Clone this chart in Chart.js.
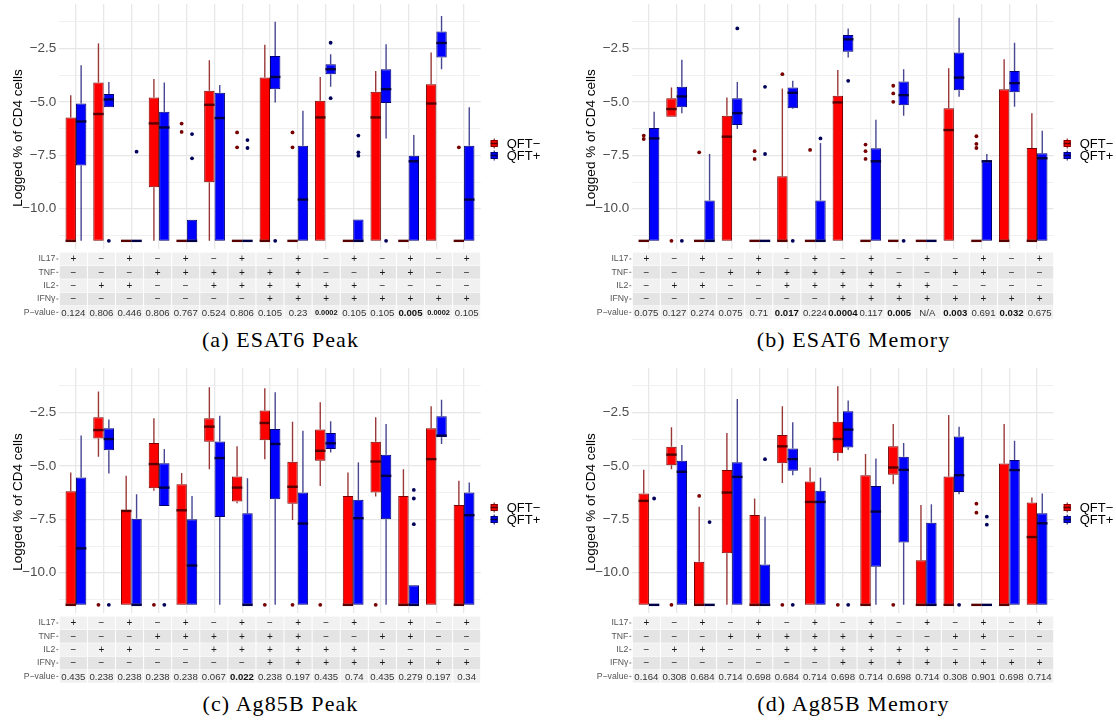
<!DOCTYPE html>
<html>
<head>
<meta charset="utf-8">
<script src="https://cdn.jsdelivr.net/npm/chart.js@4.4.0/dist/chart.umd.min.js"></script>
<style>
  html, body { margin: 0; padding: 0; background: #fff; width: 1116px; height: 720px; overflow: hidden; }
  .panel { position: absolute; width: 545px; height: 325px; }
  .panel canvas { display: block; }
  .caption { position: absolute; width: 545px; text-align: center; font-family: "Liberation Serif", "Times New Roman", serif;
             font-size: 22px; line-height: 26px; letter-spacing: 1.1px; color: #000; }
</style>
</head>
<body>
<div class="panel" style="left:0;top:0"><canvas id="cA" width="545" height="325"></canvas></div>
<div class="panel" style="left:573px;top:0"><canvas id="cB" width="545" height="325"></canvas></div>
<div class="panel" style="left:0;top:364px"><canvas id="cC" width="545" height="325"></canvas></div>
<div class="panel" style="left:573px;top:364px"><canvas id="cD" width="545" height="325"></canvas></div>
<div class="caption" style="left:8px;top:327px">(a) ESAT6 Peak</div>
<div class="caption" style="left:581px;top:327px">(b) ESAT6 Memory</div>
<div class="caption" style="left:8px;top:691px">(c) Ag85B Peak</div>
<div class="caption" style="left:581px;top:691px">(d) Ag85B Memory</div>

<script>
// Cytokine combination table (one column per combination)
const markerNames = ['IL17', 'TNF', 'IL2', 'IFNγ'];
const il17 = ['+','−','+','−','+','−','+','−','+','−','+','−','+','−','+'];
const tnf  = ['−','−','−','+','+','+','+','+','+','−','−','+','+','−','−'];
const il2  = ['−','+','+','−','−','+','+','+','+','+','+','−','−','−','−'];
const ifng = ['−','−','−','−','−','−','−','+','+','+','+','+','+','+','+'];
const groupNames = ['QFT−', 'QFT+'];

// Box statistics per combination: [lower whisker, Q1, median, Q3, upper whisker]
const esat6PeakNeg = [
  [-11.5,-11.5,-11.5,-5.73,-4.69], [-11.5,-11.5,-5.57,-4.10,-2.27], [-11.5,-11.5,-11.5,-11.5,-11.5],
  [-11.5,-8.99,-6.01,-4.80,-3.94], [-11.5,-11.5,-11.5,-11.5,-11.5], [-11.5,-8.76,-5.14,-4.49,-3.06],
  [-11.5,-11.5,-11.5,-11.5,-11.5], [-11.5,-11.5,-11.5,-3.87,-2.34], [-11.5,-11.5,-11.5,-11.5,-11.5],
  [-11.5,-11.5,-5.73,-4.95,-3.84], [-11.5,-11.5,-11.5,-11.5,-11.5], [-11.5,-11.5,-5.73,-4.53,-3.56],
  [-11.5,-11.5,-11.5,-11.5,-11.5], [-11.5,-11.5,-5.08,-4.18,-2.70], [-11.5,-11.5,-11.5,-11.5,-11.5]
];
const esat6PeakPos = [
  [-11.5,-7.98,-5.92,-5.08,-3.29], [-5.26,-5.26,-4.89,-4.64,-4.07], [-11.5,-11.5,-11.5,-11.5,-11.5],
  [-11.5,-11.5,-6.20,-5.47,-4.10], [-11.5,-11.5,-11.5,-10.51,-10.51], [-11.5,-11.5,-5.76,-4.58,-4.22],
  [-11.5,-11.5,-11.5,-11.5,-11.5], [-5.03,-4.41,-3.84,-2.86,-1.26], [-11.5,-11.5,-9.57,-7.05,-5.42],
  [-4.30,-3.71,-3.48,-3.25,-2.78], [-11.5,-11.5,-11.5,-10.50,-10.50], [-6.71,-5.06,-4.41,-3.48,-2.31],
  [-11.5,-11.5,-7.78,-7.52,-6.55], [-3.48,-2.93,-2.25,-1.72,-0.99], [-11.5,-11.5,-9.57,-7.05,-5.26]
];
const esat6PeakNegOut = [[],[],[],[],[-6.02,-6.41],[],[-6.43,-7.13],[],[-6.43,-7.13],[],[],[],[],[],[-7.13]];
const esat6PeakPosOut = [[],[-11.5],[-7.33],[],[-6.51,-7.64],[],[-6.79,-7.16],[-11.5],[],[-2.24,-4.83],[-6.58,-7.36,-7.52],[-11.5],[],[],[]];
const esat6PeakP = ['0.124','0.806','0.446','0.806','0.767','0.524','0.806','0.105','0.23','0.0002','0.105','0.105','0.005','0.0002','0.105'];

const esat6MemNeg = [
  [-11.5,-11.5,-11.5,-11.5,-11.5], [-5.70,-5.70,-5.34,-4.83,-4.33], [-11.5,-11.5,-11.5,-11.5,-11.5],
  [-11.5,-11.5,-6.63,-5.65,-4.80], [-11.5,-11.5,-11.5,-11.5,-11.5], [-11.5,-11.5,-11.5,-8.48,-4.38],
  [-11.5,-11.5,-11.5,-11.5,-11.5], [-11.5,-11.5,-5.03,-4.72,-3.51], [-11.5,-11.5,-11.5,-11.5,-11.5],
  [-11.5,-11.5,-11.5,-11.5,-11.5], [-11.5,-11.5,-11.5,-11.5,-11.5], [-11.5,-11.5,-6.32,-5.30,-3.43],
  [-11.5,-11.5,-11.5,-11.5,-11.5], [-11.5,-11.5,-11.5,-4.41,-3.01], [-11.5,-11.5,-11.5,-7.16,-5.54]
];
const esat6MemPos = [
  [-11.5,-11.5,-6.71,-6.23,-5.47], [-5.54,-5.26,-4.75,-4.30,-3.04], [-11.5,-11.5,-11.5,-9.61,-7.44],
  [-6.27,-6.09,-5.53,-4.83,-4.07], [-11.5,-11.5,-11.5,-11.5,-11.5], [-5.34,-5.30,-4.58,-4.33,-4.02],
  [-11.5,-11.5,-11.5,-9.61,-6.93], [-2.93,-2.66,-2.08,-1.88,-1.57], [-11.5,-11.5,-7.78,-7.17,-5.84],
  [-5.65,-5.16,-4.69,-4.05,-3.48], [-11.5,-11.5,-11.5,-11.5,-11.5], [-4.77,-4.46,-3.87,-2.70,-1.07],
  [-11.5,-11.5,-7.78,-7.78,-7.44], [-5.23,-4.56,-4.13,-3.56,-2.24], [-11.5,-11.5,-7.64,-7.41,-6.35]
];
const esat6MemNegOut = [[-6.58,-6.74],[-11.5],[-7.36],[],[-7.31,-7.67],[-3.71],[-7.25],[],[-7.0,-7.31,-7.67],[-4.25,-4.61,-5.0],[],[],[-6.61,-6.97,-7.16],[],[]];
const esat6MemPosOut = [[],[-11.5],[],[-1.57],[-4.30,-7.44],[-11.5],[-6.71],[-4.02],[],[-11.5],[],[],[],[],[]];
const esat6MemP = ['0.075','0.127','0.274','0.075','0.71','0.017','0.224','0.0004','0.117','0.005','N/A','0.003','0.691','0.032','0.675'];

const ag85bPeakNeg = [
  [-11.5,-11.5,-11.5,-6.19,-5.31], [-4.58,-3.72,-3.33,-2.73,-1.53], [-11.5,-11.5,-7.11,-7.06,-5.47],
  [-6.17,-6.05,-4.92,-3.94,-2.78], [-11.5,-11.5,-7.08,-5.86,-5.34], [-5.16,-3.88,-3.17,-2.78,-1.33],
  [-6.75,-6.67,-6.02,-5.50,-4.09], [-4.69,-3.81,-3.00,-2.42,-1.38], [-7.53,-6.77,-5.98,-4.81,-2.94],
  [-5.94,-4.77,-4.30,-3.31,-2.03], [-11.5,-11.5,-11.5,-6.41,-5.31], [-6.44,-6.25,-4.80,-3.88,-2.73],
  [-11.5,-11.5,-11.5,-6.41,-5.16], [-11.5,-11.5,-4.69,-3.25,-2.22], [-11.5,-11.5,-11.5,-6.83,-5.70]
];
const ag85bPeakPos = [
  [-11.5,-11.5,-8.86,-5.55,-3.59], [-5.36,-4.27,-3.75,-3.25,-2.84], [-11.5,-11.5,-11.5,-7.47,-6.33],
  [-6.88,-6.88,-6.02,-4.88,-4.22], [-11.5,-11.5,-9.66,-7.50,-6.41], [-11.5,-7.39,-4.64,-3.86,-2.66],
  [-11.5,-11.5,-11.5,-7.22,-5.58], [-11.5,-6.56,-3.98,-3.28,-1.56], [-11.5,-11.5,-7.70,-6.25,-3.36],
  [-4.38,-4.22,-3.95,-3.47,-2.92], [-11.5,-11.5,-7.45,-6.59,-4.84], [-11.5,-7.50,-5.47,-4.48,-3.05],
  [-11.5,-11.5,-11.5,-10.58,-10.58], [-3.98,-3.67,-3.59,-2.69,-1.91], [-11.5,-11.5,-7.31,-6.25,-5.78]
];
const ag85bPeakNegOut = [[],[-11.5],[],[-11.5],[],[],[],[-11.5],[-11.5],[-11.5],[],[-11.5],[],[],[]];
const ag85bPeakPosOut = [[],[-11.5],[],[-11.5],[],[],[],[],[],[],[],[],[-6.13,-6.53,-7.73],[],[]];
const ag85bPeakP = ['0.435','0.238','0.238','0.238','0.238','0.067','0.022','0.238','0.197','0.435','0.74','0.435','0.279','0.197','0.34'];

const ag85bMemNeg = [
  [-11.5,-11.5,-6.64,-6.30,-5.19], [-5.16,-4.97,-4.48,-4.11,-3.20], [-11.5,-11.5,-11.5,-9.48,-6.92],
  [-11.5,-9.09,-6.25,-5.20,-3.47], [-11.5,-11.5,-11.5,-7.30,-6.53], [-5.81,-4.88,-4.09,-3.56,-2.22],
  [-11.5,-11.5,-6.69,-5.73,-5.08], [-4.77,-4.41,-3.75,-2.94,-1.28], [-11.5,-11.5,-11.5,-5.44,-4.45],
  [-5.86,-5.42,-5.08,-4.09,-3.05], [-11.5,-11.5,-11.5,-9.42,-6.83], [-11.5,-11.5,-11.5,-5.50,-2.63],
  [-11.5,-11.5,-11.5,-11.5,-11.5], [-11.5,-11.5,-11.5,-4.89,-3.05], [-11.5,-11.5,-8.33,-6.72,-6.48]
];
const ag85bMemPos = [
  [-11.5,-11.5,-11.5,-11.5,-11.5], [-11.5,-11.5,-5.28,-4.77,-4.03], [-11.5,-11.5,-11.5,-11.5,-11.5],
  [-11.5,-11.5,-5.52,-4.84,-1.88], [-11.5,-11.5,-11.5,-9.61,-7.38], [-5.44,-5.23,-4.69,-4.19,-2.97],
  [-11.5,-11.5,-6.69,-6.17,-5.55], [-4.25,-4.14,-3.31,-2.45,-1.95], [-11.5,-9.72,-7.14,-5.94,-4.66],
  [-11.5,-8.59,-5.19,-4.58,-3.94], [-11.5,-11.5,-11.5,-7.66,-6.80], [-6.33,-6.22,-5.44,-3.63,-3.17],
  [-11.5,-11.5,-11.5,-11.5,-11.5], [-11.5,-11.5,-5.20,-4.73,-3.83], [-11.5,-11.5,-7.69,-7.22,-6.30]
];
const ag85bMemNegOut = [[],[-11.5],[-6.41],[],[],[-11.5],[],[-11.5],[],[-11.5],[],[],[-6.77,-7.19],[],[]];
const ag85bMemPosOut = [[-6.53],[],[-7.63],[],[-4.69],[-11.5],[],[-11.5],[],[],[],[-11.5],[-7.38,-7.75],[],[]];
const ag85bMemP = ['0.164','0.308','0.684','0.714','0.698','0.684','0.714','0.698','0.714','0.698','0.714','0.308','0.901','0.698','0.714'];

// Styling
const FONT = '"Liberation Sans", Arial, Helvetica, sans-serif';
Chart.defaults.font.family = FONT;
const DODGE = 0.75 / 4;  // half of one box width, in category units
const SIDES = [
  { fill: '#ff0000', edge: '#7a0000', whisker: 'rgba(125,0,0,0.78)', median: '#560000', point: '#760000' },
  { fill: '#0000ff', edge: '#00006e', whisker: 'rgba(10,10,110,0.75)', median: '#000046', point: '#00005a' }
];
const Y_MIN = -11.88, Y_MAX = -0.43;
const Y_TICKS = [-11.25, -10, -8.75, -7.5, -6.25, -5, -3.75, -2.5, -1.25];
const isMajor = v => Math.abs(v / 2.5 - Math.round(v / 2.5)) < 1e-6;

// Whiskers, medians, the combination table, legend and y title
const boxPlugin = {
  id: 'boxParts',
  beforeDatasetsDraw(chart) {
    const { ctx, scales: { y } } = chart;
    chart.data.datasets.forEach((ds, di) => {
      if (!ds.stats) return;
      const meta = chart.getDatasetMeta(di);
      ctx.save();
      ctx.strokeStyle = ds.whiskerColor;
      ctx.lineWidth = 1.4;
      ds.stats.forEach((s, j) => {
        const x = meta.data[j].x;
        ctx.beginPath();
        ctx.moveTo(x, y.getPixelForValue(s[0])); ctx.lineTo(x, y.getPixelForValue(s[1]));
        ctx.moveTo(x, y.getPixelForValue(s[3])); ctx.lineTo(x, y.getPixelForValue(s[4]));
        ctx.stroke();
      });
      ctx.restore();
    });
  },
  afterDatasetsDraw(chart) {
    const { ctx, scales: { y } } = chart;
    chart.data.datasets.forEach((ds, di) => {
      if (!ds.stats) return;
      const meta = chart.getDatasetMeta(di);
      ctx.save();
      ctx.strokeStyle = ds.medianColor;
      ctx.lineWidth = 2.4;
      ds.stats.forEach((s, j) => {
        const el = meta.data[j];
        const py = y.getPixelForValue(s[2]);
        ctx.beginPath();
        ctx.moveTo(el.x - el.width / 2, py); ctx.lineTo(el.x + el.width / 2, py);
        ctx.stroke();
      });
      ctx.restore();
    });
  },
  afterDraw(chart) {
    const { ctx, chartArea: ca } = chart;
    const cfg = chart.options.plugins.boxParts;
    ctx.save();

    // y-axis title
    ctx.save();
    ctx.translate(18, 138);
    ctx.rotate(-Math.PI / 2);
    ctx.font = '13.5px ' + FONT;
    ctx.fillStyle = '#000';
    ctx.textAlign = 'center';
    ctx.textBaseline = 'middle';
    ctx.fillText('Logged % of CD4 cells', 0, 0);
    ctx.restore();

    // combination table under the plot
    const rows = [il17, tnf, il2, ifng, cfg.p];
    const labels = markerNames.concat(['P−value']);
    const colW = (ca.right - ca.left) / rows[0].length;
    const top = ca.bottom + 3.3, rowH = 13.35;
    rows.forEach((row, r) => {
      const y0 = top + r * rowH, cy = y0 + rowH / 2;
      ctx.fillStyle = r % 2 ? '#e4e4e4' : '#f1f1f1';
      row.forEach((_, i) => ctx.fillRect(ca.left + i * colW + 0.5, y0 + 0.3, colW - 1, rowH - 0.6));
      ctx.fillStyle = '#555';
      ctx.font = '8.7px ' + FONT;
      ctx.textAlign = 'right';
      ctx.textBaseline = 'middle';
      ctx.fillText(labels[r], ca.left - 4, cy);
      ctx.strokeStyle = '#777';
      ctx.lineWidth = 1;
      ctx.beginPath(); ctx.moveTo(ca.left - 3, cy); ctx.lineTo(ca.left - 1, cy); ctx.stroke();
      ctx.textAlign = 'center';
      row.forEach((txt, i) => {
        const cx = ca.left + (i + 0.5) * colW;
        if (r < 4) {
          ctx.font = '10px ' + FONT;
          ctx.fillStyle = '#1a1a1a';
        } else {
          const v = parseFloat(txt);
          const bold = !isNaN(v) && v < 0.05;
          const size = txt.length > 5 ? cfg.longP : 9.6;
          ctx.font = (bold ? 'bold ' : '') + size + 'px ' + FONT;
          ctx.fillStyle = bold ? '#111' : '#333';
        }
        ctx.fillText(txt, cx, cy + 0.5);
      });
    });

    // legend
    const lx = ca.right + 10;
    groupNames.forEach((name, g) => {
      const cy = ca.top + 139.5 + g * 12;
      const st = SIDES[g];
      ctx.strokeStyle = st.edge; ctx.lineWidth = 1;
      ctx.beginPath(); ctx.moveTo(lx + 3.5, cy - 5); ctx.lineTo(lx + 3.5, cy + 5); ctx.stroke();
      ctx.fillStyle = st.fill;
      ctx.fillRect(lx, cy - 3.5, 7, 7);
      ctx.strokeRect(lx + 0.5, cy - 3, 6, 6);
      ctx.strokeStyle = st.median; ctx.lineWidth = 1.6;
      ctx.beginPath(); ctx.moveTo(lx, cy); ctx.lineTo(lx + 7, cy); ctx.stroke();
      ctx.fillStyle = '#000';
      ctx.font = '13px ' + FONT;
      ctx.textAlign = 'left';
      ctx.textBaseline = 'middle';
      ctx.fillText(name, lx + 16, cy + 0.5);
    });
    ctx.restore();
  }
};

function boxDataset(stats, side) {
  const st = SIDES[side];
  return {
    type: 'bar',
    data: stats.map((s, i) => ({ x: i + 1, y: [s[1], s[3]] })),
    backgroundColor: st.fill,
    borderColor: st.edge,
    borderWidth: 1,
    borderSkipped: false,
    categoryPercentage: 0.75,
    barPercentage: 1,
    stats: stats,
    whiskerColor: st.whisker,
    medianColor: st.median
  };
}

function outlierDataset(outs, side) {
  const st = SIDES[side];
  const shift = side === 0 ? -DODGE : DODGE;
  return {
    type: 'scatter',
    data: outs.flatMap((vals, i) => vals.map(v => ({ x: i + 1 + shift, y: v }))),
    pointRadius: 1.9,
    pointBackgroundColor: st.point,
    pointBorderWidth: 0,
    showLine: false
  };
}

function drawPanel(canvasId, neg, pos, negOut, posOut, pvals, longP) {
  new Chart(document.getElementById(canvasId), {
    type: 'bar',
    data: {
      datasets: [
        boxDataset(neg, 0), boxDataset(pos, 1),
        outlierDataset(negOut, 0), outlierDataset(posOut, 1)
      ]
    },
    options: {
      responsive: false,
      animation: false,
      events: [],
      layout: { padding: { left: 0, right: 64.3, top: 4, bottom: 76 } },
      plugins: {
        legend: { display: false },
        tooltip: { enabled: false },
        boxParts: { p: pvals, longP: longP }
      },
      scales: {
        x: {
          type: 'linear', min: 0.4, max: 15.6, offset: false,
          afterBuildTicks: s => { s.ticks = il17.map((_, i) => ({ value: i + 1 })); },
          ticks: { display: false },
          grid: { color: '#e8e8e8', lineWidth: 1.3, drawTicks: false, offset: false },
          border: { display: false }
        },
        y: {
          min: Y_MIN, max: Y_MAX,
          afterBuildTicks: s => { s.ticks = Y_TICKS.map(v => ({ value: v })); },
          afterFit: s => { s.width = 59.3; s.paddingTop = 0; s.paddingBottom = 0; },
          ticks: {
            autoSkip: false, padding: 3, color: '#4d4d4d', font: { size: 13.5 },
            callback: v => isMajor(v) ? v.toFixed(1).replace('-', '−') : ''
          },
          grid: {
            drawTicks: false,
            color: ctx => isMajor(ctx.tick.value) ? '#e6e6e6' : '#eeeeee',
            lineWidth: ctx => isMajor(ctx.tick.value) ? 1.3 : 0.9
          },
          border: { display: false }
        }
      }
    },
    plugins: [boxPlugin]
  });
}

drawPanel('cA', esat6PeakNeg, esat6PeakPos, esat6PeakNegOut, esat6PeakPosOut, esat6PeakP, 7.4);
drawPanel('cB', esat6MemNeg, esat6MemPos, esat6MemNegOut, esat6MemPosOut, esat6MemP, 9.6);
drawPanel('cC', ag85bPeakNeg, ag85bPeakPos, ag85bPeakNegOut, ag85bPeakPosOut, ag85bPeakP, 9.6);
drawPanel('cD', ag85bMemNeg, ag85bMemPos, ag85bMemNegOut, ag85bMemPosOut, ag85bMemP, 9.6);
</script>
</body>
</html>
